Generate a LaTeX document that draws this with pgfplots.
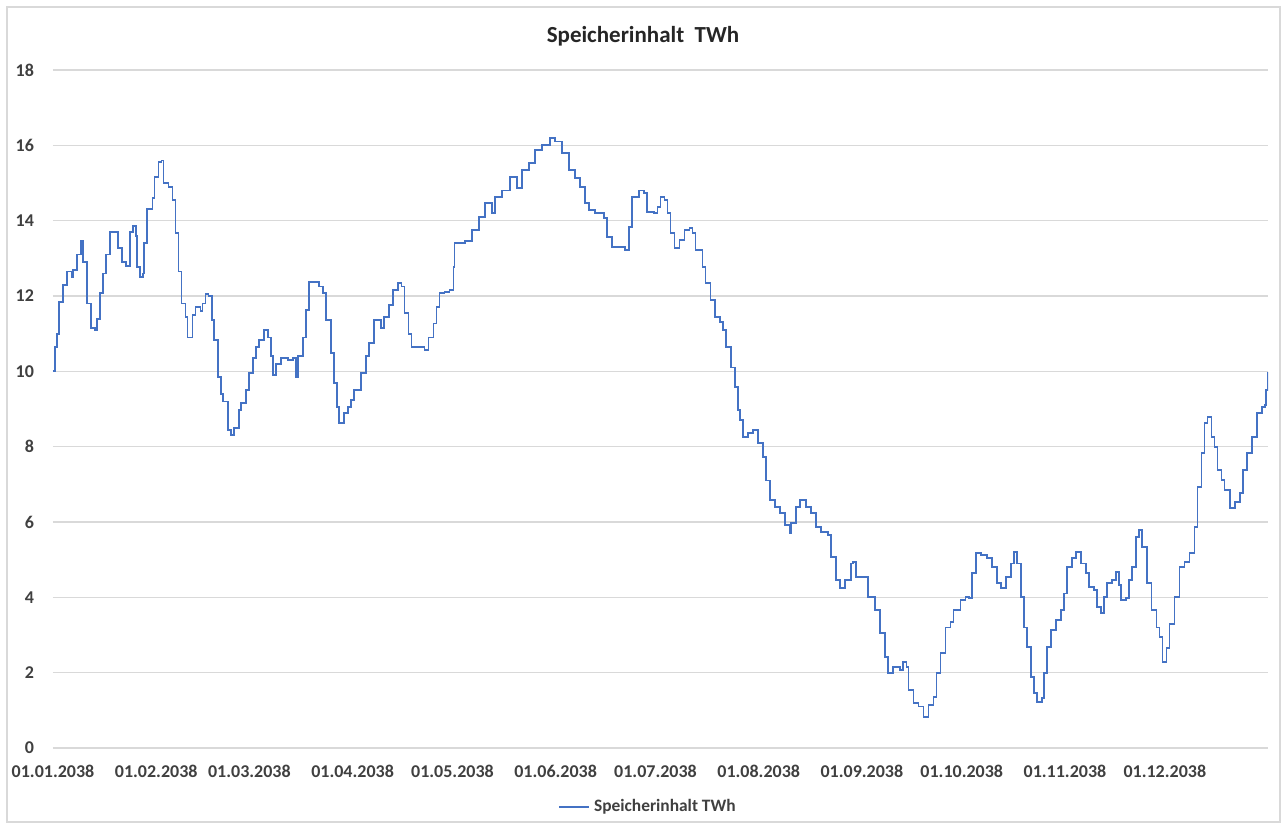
\documentclass[border=0pt]{standalone}
\usepackage{fontspec}
\setmainfont{Carlito}
\usepackage{pgfplots}
\usepackage{pgfplotstable}
\pgfplotsset{compat=1.18}
\definecolor{lineblue}{HTML}{4472C4}
\definecolor{gridgray}{HTML}{D9D9D9}
\definecolor{txt}{HTML}{404040}
\pgfplotstableread{
day val
0 10.0
0.6 10.65
1.2 11.0
1.8 11.85
3.0 12.3
4.2 12.65
5.7 12.5
6.0 12.7
7.2 13.1
8.4 13.45
9.0 12.9
10.3 11.8
11.5 11.15
12.7 11.1
13.3 11.4
14.2 12.07
15.1 12.6
16.0 13.1
17.2 13.7
18.7 13.7
19.6 13.27
20.8 12.9
22.0 12.8
23.2 13.7
24.1 13.85
25.0 13.6
25.3 12.77
26.2 12.5
27.1 12.6
27.4 13.4
28.3 14.3
29.9 14.6
30.5 15.16
31.7 15.56
32.6 15.6
33.2 15.0
34.7 14.9
35.9 14.55
36.8 13.67
37.7 12.65
38.6 11.8
39.8 11.45
40.4 10.9
41.6 10.9
41.9 11.5
42.8 11.7
44.3 11.6
44.9 11.8
45.8 12.05
46.7 12.0
47.7 11.36
48.3 10.83
49.5 9.85
50.4 9.4
51.0 9.2
52.5 8.44
53.4 8.3
54.3 8.5
55.8 8.97
56.4 9.15
57.9 9.5
58.8 9.95
60.0 10.35
60.9 10.65
61.8 10.83
63.3 11.1
64.5 10.9
65.4 10.4
66.0 9.9
67.0 10.2
68.5 10.35
70.6 10.3
72.1 10.35
73.0 9.85
73.6 10.4
75.1 10.9
76.0 11.63
76.9 12.37
78.4 12.37
79.9 12.25
81.1 12.07
82.0 11.36
83.5 10.48
84.4 9.68
85.4 9.05
86.0 8.63
87.5 8.9
88.7 9.05
89.6 9.24
90.5 9.5
92.6 9.95
94.1 10.4
95.0 10.75
96.5 11.36
98.0 11.36
98.6 11.15
99.5 11.45
101.0 11.76
102.2 12.16
103.7 12.34
104.7 12.25
105.6 11.55
106.8 11.0
107.7 10.65
109.8 10.65
111.6 10.57
112.8 10.9
114.3 11.27
115.2 11.7
116.1 12.07
117.6 12.1
119.1 12.16
120.3 12.77
120.6 13.4
123.7 13.45
125.8 13.75
127.9 14.1
129.7 14.47
131.8 14.2
132.7 14.63
134.8 14.8
137.2 15.16
139.3 14.87
140.8 15.35
143.0 15.53
144.8 15.87
146.9 16.0
149.3 16.2
150.8 16.1
152.9 15.8
155.0 15.35
156.8 15.13
158.3 14.9
159.8 14.47
161.0 14.28
162.9 14.2
165.6 14.07
166.5 13.57
168.0 13.3
170.4 13.3
171.9 13.22
173.1 13.83
174.0 14.63
176.1 14.8
177.6 14.73
178.5 14.23
180.6 14.2
181.6 14.37
182.5 14.63
183.7 14.55
184.6 14.2
185.5 13.67
186.7 13.27
188.2 13.48
189.7 13.75
191.2 13.8
192.1 13.67
193.0 13.22
195.1 12.77
196.0 12.34
197.5 11.9
198.8 11.45
200.3 11.3
201.2 11.1
202.1 10.65
203.6 10.1
204.8 9.58
205.7 8.97
206.3 8.7
207.2 8.26
208.7 8.36
210.2 8.44
211.7 8.1
213.2 7.73
214.1 7.1
215.3 6.58
216.8 6.4
218.4 6.24
219.9 5.92
221.4 5.7
221.7 5.97
223.2 6.4
224.4 6.58
226.2 6.4
227.7 6.24
229.2 5.87
230.7 5.73
232.8 5.65
233.7 5.07
235.2 4.46
236.4 4.25
237.9 4.46
239.8 4.9
240.4 4.94
241.3 4.54
243.4 4.54
244.9 4.0
247.0 3.66
248.5 3.05
250.0 2.42
250.9 2.0
252.4 2.15
254.5 2.07
255.4 2.28
256.4 2.15
257.0 1.54
258.5 1.2
260.0 1.1
261.5 0.83
263.0 1.15
264.5 1.36
265.4 2.0
266.6 2.52
268.1 3.2
269.6 3.35
270.5 3.66
272.6 3.93
274.1 4.0
275.1 3.98
276.0 4.64
277.2 5.17
278.7 5.12
280.5 5.04
282.0 4.8
283.5 4.38
284.7 4.25
286.2 4.54
287.7 4.9
288.6 5.2
289.5 4.9
290.7 4.0
291.6 3.2
292.6 2.68
293.8 1.88
294.7 1.46
295.6 1.22
297.1 1.33
297.7 2.0
298.6 2.68
299.8 3.13
301.3 3.4
302.8 3.66
303.7 4.1
304.6 4.8
306.1 5.04
307.3 5.2
308.8 4.9
310.3 4.64
311.2 4.28
312.7 4.2
313.7 3.75
314.9 3.58
315.8 4.0
316.7 4.38
318.2 4.46
319.4 4.67
320.3 4.33
320.9 3.93
322.4 3.98
323.3 4.46
324.2 4.8
325.4 5.6
326.3 5.79
327.2 5.34
328.7 4.38
330.0 3.66
331.5 3.2
332.4 2.95
333.3 2.28
334.5 2.65
335.4 3.3
336.9 4.0
338.4 4.8
339.9 4.94
341.4 5.17
342.9 5.87
343.8 6.93
345.0 7.83
345.9 8.63
346.8 8.79
348.0 8.26
348.9 7.99
349.8 7.38
351.0 7.11
351.9 6.85
353.5 6.37
355.0 6.53
356.5 6.77
357.4 7.38
358.6 7.83
360.1 8.26
361.6 8.89
363.1 9.05
364.0 9.1
364.5 9.5
365.0 9.98
}\datatable
\begin{document}
\begin{tikzpicture}[x=1pt,y=1pt]
\draw[gridgray, line width=0.6pt, fill=white] (3.5,2.5) rectangle (640,410);
\path[use as bounding box] (0,0) rectangle (642.5,413.5);
\begin{axis}[
  at={(26.5pt,39.5pt)}, anchor=south west,
  width=607.5pt, height=339pt, scale only axis,
  xmin=0, xmax=365, ymin=0, ymax=18,
  xtick={0,31,59,90,120,151,181,212,243,273,304,334},
  xticklabels={01.01.2038,01.02.2038,01.03.2038,01.04.2038,01.05.2038,01.06.2038,01.07.2038,01.08.2038,01.09.2038,01.10.2038,01.11.2038,01.12.2038},
  ytick={0,2,...,18},
  ymajorgrids, grid style={gridgray, line width=0.6pt},
  major tick length=0pt,
  axis line style={draw=none},
  /pgf/number format/assume math mode=true,
  ticklabel style={font=\fontsize{9}{10}\selectfont\bfseries, text=txt},
  xticklabel style={yshift=-5pt},
  yticklabel style={xshift=-6pt},
  title={Speicherinhalt\ \ TWh},
  title style={at={(0.4856,1)}, anchor=center, yshift=11pt, font=\fontsize{11.5}{13}\selectfont\bfseries, text=black!85},
  legend style={at={(0.4905,-0.087)}, anchor=center, draw=none, fill=none, font=\fontsize{8.7}{10}\selectfont\bfseries, text=txt},
  legend image code/.code={\draw[#1] (0pt,0pt) -- (15pt,0pt);},
]
\addplot[const plot, color=lineblue, line width=0.9pt] table[x=day, y=val] {\datatable};
\addlegendentry{Speicherinhalt TWh}
\end{axis}
\end{tikzpicture}
\end{document}
